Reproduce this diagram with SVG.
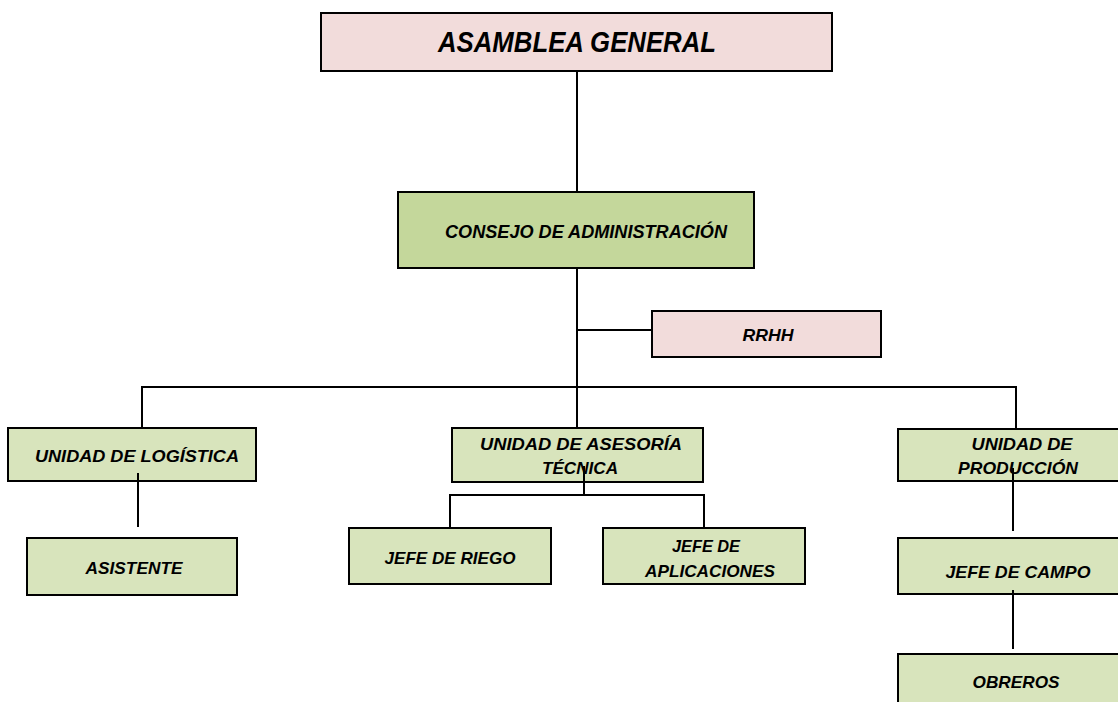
<svg xmlns="http://www.w3.org/2000/svg" width="1118" height="702" viewBox="0 0 1118 702">
<style>
.box{stroke:#000;stroke-width:2}
.pink{fill:#F2DCDB}
.green{fill:#C4D79B}
.lgreen{fill:#D8E4BC}
.t{font-family:"Liberation Sans",Arial,sans-serif;font-weight:bold;font-style:italic;fill:#000;text-anchor:middle}
.s{font-size:17px}
.ln{stroke:#000;stroke-width:2;fill:none}
</style>
<rect width="1118" height="702" fill="#fff"/>
<g id="asamblea">
<rect class="box pink" x="321" y="13" width="511" height="58"/>
<text class="t" x="577" y="52" font-size="29" textLength="278" lengthAdjust="spacingAndGlyphs">ASAMBLEA GENERAL</text>
</g>
<g id="consejo">
<rect class="box green" x="398" y="192" width="356" height="76"/>
<text class="t" x="586" y="238" font-size="18" textLength="282" lengthAdjust="spacingAndGlyphs">CONSEJO DE ADMINISTRACIÓN</text>
</g>
<g id="rrhh">
<rect class="box pink" x="652" y="311" width="229" height="46"/>
<text class="t s" x="768" y="341" textLength="51" lengthAdjust="spacingAndGlyphs">RRHH</text>
</g>
<g id="logistica">
<rect class="box lgreen" x="8" y="428" width="248" height="53"/>
<text class="t s" x="137" y="462" textLength="204" lengthAdjust="spacingAndGlyphs">UNIDAD DE LOGÍSTICA</text>
</g>
<g id="asistente">
<rect class="box lgreen" x="27" y="538" width="210" height="57"/>
<text class="t s" x="134" y="574" textLength="97" lengthAdjust="spacingAndGlyphs">ASISTENTE</text>
</g>
<g id="asesoria">
<rect class="box lgreen" x="452" y="428" width="251" height="54"/>
<text class="t s" x="581" y="450" textLength="202" lengthAdjust="spacingAndGlyphs">UNIDAD DE ASESORÍA</text>
<text class="t s" x="580" y="474" textLength="76" lengthAdjust="spacingAndGlyphs">TÉCNICA</text>
</g>
<g id="riego">
<rect class="box lgreen" x="349" y="528" width="202" height="56"/>
<text class="t s" x="450" y="564" textLength="131" lengthAdjust="spacingAndGlyphs">JEFE DE RIEGO</text>
</g>
<g id="aplicaciones">
<rect class="box lgreen" x="603" y="528" width="202" height="56"/>
<text class="t s" x="706" y="552" textLength="68" lengthAdjust="spacingAndGlyphs">JEFE DE</text>
<text class="t s" x="710" y="577" textLength="130" lengthAdjust="spacingAndGlyphs">APLICACIONES</text>
</g>
<g id="produccion">
<rect class="box lgreen" x="898" y="429" width="225" height="52"/>
<text class="t s" x="1022" y="450" textLength="101" lengthAdjust="spacingAndGlyphs">UNIDAD DE</text>
<text class="t s" x="1018" y="474" textLength="120" lengthAdjust="spacingAndGlyphs">PRODUCCIÓN</text>
</g>
<g id="campo">
<rect class="box lgreen" x="898" y="538" width="225" height="56"/>
<text class="t s" x="1018" y="578" textLength="145" lengthAdjust="spacingAndGlyphs">JEFE DE CAMPO</text>
</g>
<g id="obreros">
<rect class="box lgreen" x="898" y="654" width="225" height="60"/>
<text class="t s" x="1016" y="688" textLength="87" lengthAdjust="spacingAndGlyphs">OBREROS</text>
</g>
<g id="connectors">
<line class="ln" x1="577" y1="72" x2="577" y2="191"/>
<line class="ln" x1="577" y1="269" x2="577" y2="427"/>
<line class="ln" x1="577" y1="330" x2="651" y2="330"/>
<polyline class="ln" points="142,427 142,387 1016,387 1016,428"/>
<line class="ln" x1="138" y1="473" x2="138" y2="527"/>
<line class="ln" x1="584" y1="466" x2="584" y2="495"/>
<polyline class="ln" points="450,527 450,495 704,495 704,527"/>
<line class="ln" x1="1013" y1="468" x2="1013" y2="531"/>
<line class="ln" x1="1013" y1="590" x2="1013" y2="649"/>
</g>
</svg>
